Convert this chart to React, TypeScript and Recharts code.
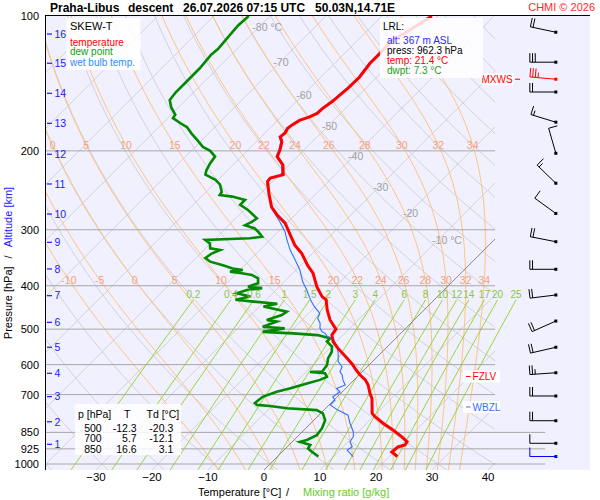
import React from "react";
import { ComposedChart, Line, Scatter, XAxis, YAxis } from "recharts";

// sounding values: [pressure hPa, value °C], surface first
const temperature = [
  [962.3, 21.4], [940, 19.6], [916, 19.8], [907, 20.7], [892, 20.5], [871, 18.8], [840, 15.9],
  [811, 12.9], [784, 10.3], [771, 9.2], [745, 8.0], [714, 6.5], [695, 5.2], [666, 3.4], [649, 2.0],
  [633, 0.2], [617, -1.4], [601, -2.9], [581, -5.1], [552, -8.5], [533, -10.6], [515, -12.0],
  [500, -12.3], [477, -15.0], [453, -17.3], [430, -19.3], [423, -20.6], [402, -23.3], [375, -26.4],
  [360, -28.8], [339, -31.9], [325, -34.6], [308, -37.3], [290, -40.3], [278, -43.2], [267, -45.6],
  [249, -48.5], [234, -50.9], [230, -51.0], [226, -49.3], [215, -51.1], [206, -53.6], [199, -54.3],
  [191, -55.4], [186, -56.6], [182.5, -56.4], [178, -56.8], [175, -56.6], [171, -56.1], [168, -54.9],
  [165, -54.2], [161, -54.1], [155, -53.6], [150, -53.4], [145, -53.2], [137, -53.1], [127.5, -53.7],
  [121, -53.7], [113, -53.8], [108.4, -52.7], [104, -51.9], [100, -51.1],
];

const dewPoint = [
  [962.3, 7.3], [939, 5.3], [923, 4.0], [907, 3.8], [892, 1.4], [884, 2.3], [862, 3.2], [832, 2.9],
  [798, 2.0], [771, 0.4], [758, -1.3], [751, -6.9], [742, -10.4], [738, -12.9], [731, -13.6],
  [708, -13.3], [690, -11.7], [678, -10.0], [661, -7.8], [649, -6.1], [639, -5.4], [627, -6.4],
  [623, -9.3], [621.5, -7.2], [601, -7.5], [581, -8.5], [562, -9.0], [547, -9.9], [533, -11.7],
  [524, -11.7], [515.5, -14.6], [511, -19.2], [507, -24.9], [498, -21.6], [494, -25.8], [481, -24.2],
  [477, -26.3], [465, -24.5], [457, -24.2], [445, -29.3], [439, -27.3], [434, -32.0], [430, -35.5],
  [423, -33.4], [416, -36.4], [409, -35.2], [405, -32.8], [402, -35.6], [395, -34.4], [385, -35.3],
  [378.5, -37.0], [375, -39.1], [372, -41.5], [369, -39.5], [366, -41.6], [360, -43.9], [353.5, -46.8],
  [347, -48.3], [339, -48.0], [333, -47.1], [330, -49.2], [322, -50.1], [316, -51.6], [313.5, -43.9],
  [311, -42.0], [303, -43.6], [298, -44.8], [293, -47.1], [288, -46.5], [283, -46.2], [271, -49.3],
  [264, -51.6], [257.5, -51.6], [253, -54.5], [251, -57.0], [247, -57.2], [238, -58.8], [232, -60.5],
  [226, -63.2], [221, -63.8], [213, -64.4], [206, -64.7], [200, -66.6], [196, -68.6], [189, -70.9],
  [183, -73.0], [177, -75.0], [174, -76.6], [169, -79.1], [166, -79.3], [160, -81.3], [154, -82.9],
  [148, -83.2], [140, -83.2], [131, -83.2], [122, -83.6], [118.5, -83.4], [112, -83.7], [105, -84.0],
  [100, -83.8],
];

const wetBulb = [
  [962.3, 13.5], [931, 11.3], [915, 11.6], [892, 10.3], [869, 10.0], [847, 9.1], [811, 7.0],
  [778, 5.2], [758, 2.5], [738, 0.2], [720, 0.2], [708, -0.8], [690, -0.4], [678, -1.6], [666, -0.7],
  [649, -2.0], [633, -3.0], [622, -4.0], [606.5, -4.5], [591, -6.1], [566, -7.6], [547, -9.0],
  [524, -11.2], [520, -12.4], [511, -13.5], [507, -14.3], [498, -15.3], [485, -16.2], [473, -17.5],
  [461, -18.0], [446, -20.1], [430, -22.1], [409, -24.5], [392, -26.7], [369, -29.3], [350, -32.0],
  [333, -34.6], [316, -37.0], [303, -38.8], [288, -41.5], [273, -44.5], [257.5, -47.1], [238, -50.4],
  [234, -50.9], [230, -51.2], [226, -49.6], [215, -51.3], [206, -53.8], [199, -54.5], [191, -55.6],
  [186, -56.8], [182.5, -56.6], [178, -57.0], [175, -56.8], [171, -56.3], [168, -55.1], [165, -54.4],
  [161, -54.3], [155, -53.8], [150, -53.6], [145, -53.4], [137, -53.3], [127.5, -53.9], [121, -53.9],
  [113, -54.0], [108.4, -52.9], [104, -52.1], [100, -51.3],
];

// wind: [pressure hPa, direction °, speed kt]
const wind = [
  [962.3, 270, 10], [899, 270, 10], [800.5, 270, 20], [705, 270, 20], [625.6, 266, 25],
  [548.8, 257, 20], [479.6, 246, 20], [419.5, 263, 20], [367.6, 270, 20], [319, 281, 20],
  [275.9, 306, 10], [236.2, 314, 15], [202.5, 344, 10], [172.6, 287, 15], [147.8, 270, 20],
  [138.4, 275, 35], [126.8, 270, 30], [108.7, 282, 20],
];
const maxWindP = 138.4;

// altitude marks: [km, pressure hPa]
const kmLevels = [
  [1, 903.7], [2, 804.9], [3, 707.4], [4, 627.4], [5, 548.8], [6, 482.8], [7, 421], [8, 367],
  [9, 320], [10, 276.7], [11, 237.1], [12, 203.5], [13, 173.6], [14, 148.8], [15, 127.5], [16, 109.7],
];

const levelMarks = [["MXWS", 138.4], ["FZLV", 638], ["WBZL", 746]];

const pressureTicks = [100, 200, 300, 400, 500, 600, 700, 850, 925, 1000];
const tempTicks = [-30, -20, -10, 0, 10, 20, 30, 40];

// background grid
const isothermT = [-120, -110, -100, -90, -80, -70, -60, -50, -40, -30, -20, -10, 10, 20, 30, 40];
const dryTheta = [-40, -30, -20, -10, 0, 10, 20, 30, 40, 50, 60, 70, 80, 90, 100, 110, 120, 130, 140, 150, 160, 170, 180];
const moistThetaW = [-10, -5, 0, 5, 10, 15, 20, 22, 24, 26, 28, 30, 32, 34];
const moistLabelsHigh = [0, 5, 10, 15, 20, 22, 24, 26, 28, 30, 32, 34];
const moistLabelsLow = [-10, -5, 0, 5, 10, 15, 20, 22, 24, 26, 28, 30, 32, 34];
const mixRatios = [0.2, 0.4, 0.6, 1, 1.5, 2, 3, 4, 6, 8, 10, 12, 14, 17, 20, 25];
const isothermLabels = [
  [-80, 106.2], [-70, 127.1], [-60, 150.6], [-50, 176], [-40, 205.3], [-30, 240.7], [-20, 275.4], [-10, 316.2],
];

const tableP = [500, 700, 850];
const tableT = [-12.3, 5.7, 16.6];
const tableTd = [-20.3, -12.1, 3.1];
const lrlAlt = 367;

// ---- diagram geometry ----
const SKEW = 80; // x shift (°C) per decade of pressure, gives 45° isotherms
const P_BOTTOM = 1031.3;
const P_TOP = 100;
const X_MIN = -39.1;
const X_MAX = 58.2;
const X_EDGE = 41.25;
const X_EDGE_LOW = 50.2;
const BARB_X = 52.1;
const MOIST_LABEL_P = [194.1, 388.3];
const MIX_TOP_P = 430;
const MIX_LABEL_P = 417.3;

const FONT = '"Liberation Sans", Arial, Helvetica, sans-serif';
const RED = "#ff0000";
const GREEN = "#008a00";
const BLUE = "#3070ff";

type Pt = { x: number; p: number };

const skewX = (t: number, p: number) => t + SKEW * Math.log10(P_BOTTOM / p);

const profile = (rows: number[][]): Pt[] => rows.map(([p, t]) => ({ x: skewX(t, p), p }));

const logSpace = (p0: number, p1: number, n: number) =>
  Array.from({ length: n + 1 }, (_, i) => p0 * Math.pow(p1 / p0, i / n));

function clip(pts: Pt[], lo: number, hi: number): Pt[][] {
  const segs: Pt[][] = [];
  let cur: Pt[] = [];
  for (let i = 0; i < pts.length; i++) {
    const a = pts[i];
    const inA = a.x >= lo && a.x <= hi;
    if (i > 0) {
      const b = pts[i - 1];
      const inB = b.x >= lo && b.x <= hi;
      if (inA !== inB) {
        const edgeRef = inA ? b.x : a.x;
        const edge = edgeRef < lo ? lo : hi;
        const f = (edge - b.x) / (a.x - b.x);
        const lp = Math.log(b.p) + f * (Math.log(a.p) - Math.log(b.p));
        cur.push({ x: edge, p: Math.exp(lp) });
        if (!inA) {
          segs.push(cur);
          cur = [];
        }
      }
    }
    if (inA) cur.push(a);
  }
  segs.push(cur);
  return segs.filter((s) => s.length > 1);
}

function xAt(pts: Pt[], p: number) {
  for (let i = 1; i < pts.length; i++) {
    const a = pts[i - 1];
    const b = pts[i];
    if ((a.p - p) * (b.p - p) <= 0) {
      const f = (Math.log(p) - Math.log(a.p)) / (Math.log(b.p) - Math.log(a.p));
      return a.x + f * (b.x - a.x);
    }
  }
  return pts[pts.length - 1].x;
}

// saturated (pseudo-adiabatic) lapse rate, dT/dln p
const lapse = (tk: number, p: number) => {
  const es = 6.112 * Math.exp((17.67 * (tk - 273.15)) / (tk - 29.65));
  const rs = (0.622 * es) / (p - es);
  return (287.04 * tk + 2.501e6 * rs) / (1005.7 + (2.501e6 * 2.501e6 * rs * 0.622) / (287.04 * tk * tk));
};
const rk4 = (tk: number, lp: number, h: number) => {
  const f = (t: number, l: number) => lapse(t, Math.exp(l));
  const k1 = f(tk, lp);
  const k2 = f(tk + (h * k1) / 2, lp + h / 2);
  const k3 = f(tk + (h * k2) / 2, lp + h / 2);
  const k4 = f(tk + h * k3, lp + h);
  return tk + (h * (k1 + 2 * k2 + 2 * k3 + k4)) / 6;
};
function moistLine(thw: number): Pt[] {
  let tk = thw + 273.15;
  let lp = Math.log(1000);
  const h0 = (Math.log(P_BOTTOM) - lp) / 4;
  for (let i = 0; i < 4; i++) {
    tk = rk4(tk, lp, h0);
    lp += h0;
  }
  const n = 160;
  const h = (Math.log(P_TOP) - lp) / n;
  const pts: Pt[] = [];
  for (let i = 0; i <= n; i++) {
    const p = Math.exp(lp);
    pts.push({ x: skewX(tk - 273.15, p), p });
    if (i < n) {
      tk = rk4(tk, lp, h);
      lp += h;
    }
  }
  return pts;
}

const mixDew = (w: number, p: number) => {
  const l = Math.log((w * p) / (622 + w) / 6.112);
  return (243.5 * l) / (17.67 - l);
};

// ---- derived line sets ----
const isothermSegs = isothermT.flatMap((t) =>
  clip([P_BOTTOM, P_TOP].map((p) => ({ x: skewX(t, p), p })), X_MIN, X_EDGE)
);
const zeroSegs = clip([P_BOTTOM, P_TOP].map((p) => ({ x: skewX(0, p), p })), X_MIN, X_EDGE);
const drySegs = dryTheta.flatMap((th) =>
  clip(
    logSpace(P_BOTTOM, P_TOP, 60).map((p) => ({
      x: skewX((th + 273.15) * Math.pow(p / 1000, 0.2857) - 273.15, p),
      p,
    })),
    X_MIN,
    X_EDGE
  )
);
const moistFull = moistThetaW.map((thw) => ({ thw, pts: moistLine(thw) }));
const moistSegs = moistFull.flatMap((m) => clip(m.pts, X_MIN, X_EDGE));
const moistLabelPts = [
  ...moistLabelsHigh.map((thw) => ({
    x: xAt(moistFull.find((m) => m.thw === thw)!.pts, MOIST_LABEL_P[0]),
    p: MOIST_LABEL_P[0],
    label: String(thw),
  })),
  ...moistLabelsLow.map((thw) => ({
    x: xAt(moistFull.find((m) => m.thw === thw)!.pts, MOIST_LABEL_P[1]),
    p: MOIST_LABEL_P[1],
    label: String(thw),
  })),
];
const mixSegs = mixRatios.map((w) =>
  logSpace(P_BOTTOM, MIX_TOP_P, 24).map((p) => ({ x: skewX(mixDew(w, p), p), p }))
);
const mixLabelPts = mixRatios.map((w) => ({
  x: skewX(mixDew(w, MIX_TOP_P), MIX_TOP_P),
  p: MIX_LABEL_P,
  label: String(w),
}));
const isobarSegs = pressureTicks
  .filter((p) => p > P_TOP)
  .map((p) => [
    { x: X_MIN, p },
    { x: p >= 850 ? X_EDGE_LOW : X_EDGE, p },
  ]);
const isoLabelPts = isothermLabels.map(([t, p]) => ({
  x: skewX(t, p),
  p,
  label: t === -80 || t === -10 ? `${t} °C` : String(t),
}));

const tempPts = profile(temperature);
const dewPts = profile(dewPoint);
const wbPts = profile(wetBulb);
const windPts = wind.map(([p, dir, spd], i) => ({
  x: BARB_X,
  p,
  dir,
  spd,
  color: i === 0 ? "#0000ff" : p === maxWindP ? RED : "#000",
}));
const kmPts = kmLevels.map(([km, p]) => ({ x: X_MIN, p, label: String(km) }));
const levelPts = levelMarks.map(([name, p]) => ({ x: X_EDGE, p: p as number, label: name as string }));

const seg = (pts: Pt[], key: string, stroke: string, width = 1) => (
  <Line
    key={key}
    data={pts}
    dataKey="p"
    type="linear"
    stroke={stroke}
    strokeWidth={width}
    dot={false}
    activeDot={false}
    isAnimationActive={false}
  />
);

const BarbShape = (props: any) => {
  const { cx, cy, payload } = props;
  const rad = (payload.dir * Math.PI) / 180;
  const sx = Math.sin(rad);
  const sy = -Math.cos(rad);
  const L = 26;
  const tx = cx + sx * L;
  const ty = cy + sy * L;
  const fx = -sy;
  const fy = sx;
  const full = Math.floor(payload.spd / 10);
  const half = payload.spd % 10 >= 5;
  const parts: React.ReactNode[] = [];
  for (let i = 0; i < full; i++) {
    const bx = tx - sx * i * 2.7;
    const by = ty - sy * i * 2.7;
    parts.push(<line key={i} x1={bx} y1={by} x2={bx + fx * 9} y2={by + fy * 9} />);
  }
  if (half) {
    const k = Math.max(full, 1) * 2.7;
    const bx = tx - sx * k;
    const by = ty - sy * k;
    parts.push(<line key="h" x1={bx} y1={by} x2={bx + fx * 5} y2={by + fy * 5} />);
  }
  return (
    <g stroke={payload.color} strokeWidth={1} fill="none">
      <line x1={cx} y1={cy} x2={tx} y2={ty} />
      {parts}
      <rect x={cx - 1.5} y={cy - 1.5} width={3} height={3} fill={payload.color} stroke="none" />
    </g>
  );
};

const KmShape = (props: any) => (
  <g>
    <line x1={props.cx + 2} x2={props.cx + 7} y1={props.cy} y2={props.cy} stroke="#1a1aff" strokeWidth={1.2} />
    <text x={props.cx + 9.5} y={props.cy + 3.8} fontSize={10.5} fill="#1a1aff">
      {props.payload.label}
    </text>
  </g>
);

const LevelShape = (props: any) => {
  const { cx, cy, payload } = props;
  if (payload.label === "MXWS") {
    return (
      <g>
        <rect x={cx - 13.5} y={cy - 6} width={32} height={12} fill="#fff" />
        <text x={cx + 17.5} y={cy + 3.6} fontSize={10} fill={RED} textAnchor="end">
          MXWS
        </text>
        <line x1={cx + 20} x2={cx + 25} y1={cy} y2={cy} stroke={RED} />
      </g>
    );
  }
  const c = payload.label === "FZLV" ? RED : BLUE;
  return (
    <g>
      <rect x={cx - 32} y={cy - 6} width={37} height={12} fill="#fff" />
      <line x1={cx - 29} x2={cx - 24.5} y1={cy} y2={cy} stroke={c} />
      <text x={cx - 22.5} y={cy + 3.6} fontSize={10} fill={c}>
        {payload.label}
      </text>
    </g>
  );
};

const labelShape = (fill: string, size: number, anchor: "start" | "middle", dx: number) => (props: any) => (
  <text x={props.cx + dx} y={props.cy + 3.6} fontSize={size} fill={fill} textAnchor={anchor}>
    {props.payload.label}
  </text>
);

export default function App() {
  return (
    <div
      style={{ position: "absolute", left: 0, top: 0, width: 600, height: 500, background: "#fff", fontFamily: FONT }}
    >
      <div style={{ position: "absolute", left: 45, top: 15, width: 545, height: 455, background: "#f0f0fe" }} />
      <ComposedChart width={600} height={500} margin={{ top: 16, right: 10, bottom: 0, left: 0 }}>
        <XAxis
          type="number"
          dataKey="x"
          domain={[X_MIN, X_MAX]}
          allowDataOverflow
          ticks={tempTicks}
          interval={0}
          height={30}
          axisLine={false}
          tickLine={false}
          tickSize={3}
          tickMargin={0}
          tickFormatter={(v: number) => String(v).replace("-", "\u2212")}
          tick={{ fill: "#000", fontSize: 11.5 }}
        />
        <YAxis
          type="number"
          dataKey="p"
          scale="log"
          domain={[P_TOP, P_BOTTOM]}
          reversed
          allowDataOverflow
          ticks={pressureTicks}
          interval={0}
          width={45}
          axisLine={false}
          tickLine={false}
          tickSize={4}
          tickMargin={2}
          tick={{ fill: "#000", fontSize: 11 }}
        />
        {isothermSegs.map((s, i) => seg(s, `it${i}`, "#d2d2d8"))}
        {drySegs.map((s, i) => seg(s, `dr${i}`, "#d2d2d8"))}
        {moistSegs.map((s, i) => seg(s, `mo${i}`, "#ffc47a"))}
        {mixSegs.map((s, i) => seg(s, `mx${i}`, "#9ad634"))}
        {isobarSegs.map((s, i) => seg(s, `ib${i}`, "#a8a8a8"))}
        {zeroSegs.map((s, i) => seg(s, `z${i}`, "#8a8a8a"))}
        <Scatter data={isoLabelPts} dataKey="p" isAnimationActive={false} shape={labelShape("#a0a0a0", 10.5, "start", -6)} />
        <Scatter data={moistLabelPts} dataKey="p" isAnimationActive={false} shape={labelShape("#f4a080", 10.5, "middle", 0)} />
        <Scatter data={mixLabelPts} dataKey="p" isAnimationActive={false} shape={labelShape("#8cc63f", 10, "middle", 0)} />
        {seg(dewPts, "dew", GREEN, 2.6)}
        {seg(wbPts, "wb", BLUE, 1.1)}
        {seg(tempPts, "temp", RED, 3)}
        <Scatter data={windPts} dataKey="p" isAnimationActive={false} shape={BarbShape} />
        <Scatter data={levelPts} dataKey="p" isAnimationActive={false} shape={LevelShape} />
        <Scatter data={kmPts} dataKey="p" isAnimationActive={false} shape={KmShape} />
      </ComposedChart>

      <svg width={600} height={500} style={{ position: "absolute", left: 0, top: 0, pointerEvents: "none" }}>
        <line x1={45} x2={590} y1={15.5} y2={15.5} stroke="#000" />
        <line x1={45.5} x2={45.5} y1={15} y2={470} stroke="#000" />
        <g fontSize={12} fontWeight="bold" fill="#000">
          <text x={50} y={11.5}>Praha-Libus</text>
          <text x={128} y={11.5}>descent</text>
          <text x={183} y={11.5}>26.07.2026 07:15 UTC</text>
          <text x={315} y={11.5}>50.03N,14.71E</text>
        </g>
        <text x={595} y={11} fontSize={11} fill="#ff2a2a" textAnchor="end">
          CHMI © 2026
        </text>

        <rect x={66.5} y={18} width={74} height={52} fill="#fff" fillOpacity={0.88} />
        <text x={70} y={30} fontSize={11} fill="#000">SKEW-T</text>
        <text x={70} y={45.5} fontSize={10} fill={RED}>temperature</text>
        <text x={70} y={55} fontSize={10} fill="#10a010">dew point</text>
        <text x={70} y={65.5} fontSize={10} fill="#3388ff">wet bulb temp.</text>

        <rect x={380} y={18} width={103} height={60} fill="#fff" fillOpacity={0.85} />
        <text x={383} y={30.4} fontSize={10} fill="#000">LRL:</text>
        <text x={387} y={43.5} fontSize={10} fill="#2a2aff">{`alt: ${lrlAlt} m ASL`}</text>
        <text x={387} y={53.7} fontSize={10} fill="#000">{`press: ${temperature[0][0].toFixed(1)} hPa`}</text>
        <text x={387} y={63.7} fontSize={10} fill={RED}>{`temp: ${temperature[0][1].toFixed(1)} °C`}</text>
        <text x={387} y={73.7} fontSize={10} fill="#20a020">{`dwpt: ${dewPoint[0][1].toFixed(1)} °C`}</text>

        <rect x={75} y={404} width={106} height={51} fill="#fff" fillOpacity={0.85} />
        <g fontSize={10.5} fill="#000">
          <text x={78} y={417.8}>p [hPa]</text>
          <text x={124} y={417.8}>T</text>
          <text x={146.5} y={417.8}>Td [°C]</text>
          {tableP.map((p, i) => (
            <g key={p}>
              <text x={101.7} y={431.8 + i * 10.5} textAnchor="end">{p}</text>
              <text x={136.7} y={431.8 + i * 10.5} textAnchor="end">{tableT[i].toFixed(1)}</text>
              <text x={173.3} y={431.8 + i * 10.5} textAnchor="end">{tableTd[i].toFixed(1)}</text>
            </g>
          ))}
        </g>

        <text transform="translate(11.5,263) rotate(-90)" textAnchor="middle" fontSize={11}>
          <tspan fill="#000">Pressure [hPa]</tspan>
          <tspan dx={8} fill="#000">/</tspan>
          <tspan dx={8} fill="#2020ff">Altitude [km]</tspan>
        </text>
        <text x={198} y={496} fontSize={11} fill="#000">Temperature [°C]</text>
        <text x={286} y={496} fontSize={11} fill="#000">/</text>
        <text x={303} y={496} fontSize={11} fill="#66cc22">Mixing ratio [g/kg]</text>
      </svg>
    </div>
  );
}
